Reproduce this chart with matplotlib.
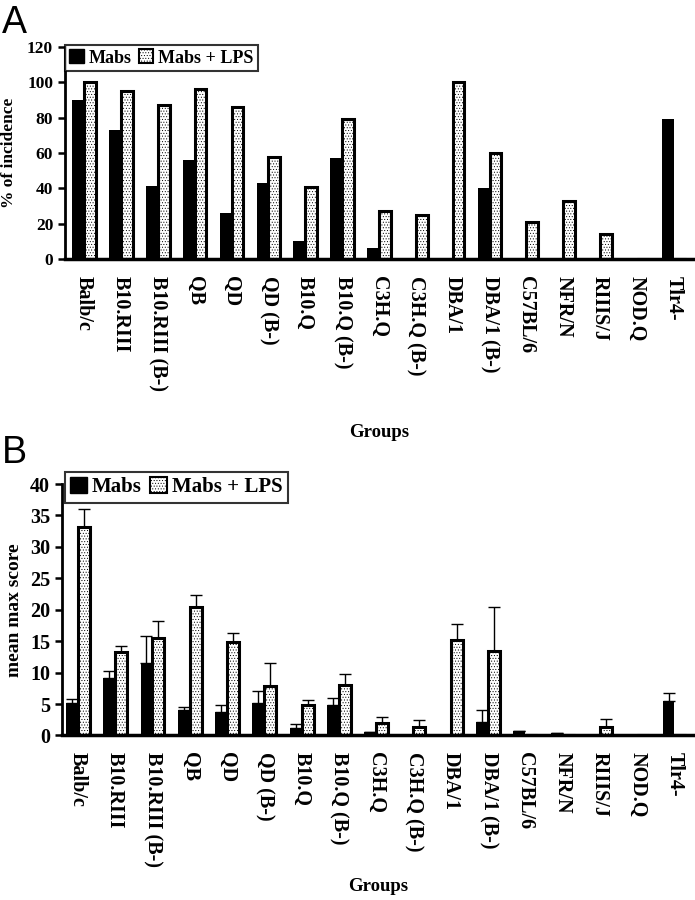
import matplotlib
matplotlib.use('Agg')
import matplotlib.pyplot as plt
from matplotlib.patches import Patch
import numpy as np

# data
groups = ['Balb/c', 'B10.RIII', 'B10.RIII (B-)', 'QB', 'QD', 'QD (B-)', 'B10.Q',
          'B10.Q (B-)', 'C3H.Q', 'C3H.Q (B-)', 'DBA/1', 'DBA/1 (B-)', 'C57BL/6',
          'NFR/N', 'RIIIS/J', 'NOD.Q', 'Tlr4-']

inc_mabs = [90, 73, 41.5, 56, 26, 43, 10, 57, 6, 0, 0, 40, 0, 0, 0, 0, 79.5]
inc_lps = [100, 95, 87, 96, 86, 57.5, 40.5, 79, 27, 25, 100, 60, 21, 33, 14, 0, 0]

score_mabs = [5.2, 9.2, 11.5, 4.1, 3.7, 5.2, 1.25, 4.8, 0.5, 0, 0, 2.2, 0.7, 0.4, 0, 0, 5.5]
score_mabs_err = [0.6, 1.0, 4.4, 0.5, 1.1, 1.9, 0.5, 1.1, 0, 0, 0, 1.8, 0, 0, 0, 0, 1.2]
score_lps = [33.2, 13.2, 15.5, 20.4, 14.8, 7.9, 4.8, 8.0, 2.0, 1.4, 15.2, 13.4, 0, 0, 1.4, 0, 0]
score_lps_err = [2.8, 1.1, 2.7, 1.9, 1.5, 3.6, 0.8, 1.8, 0.9, 1.0, 2.5, 7.1, 0, 0, 1.2, 0, 0]

serif = 'Liberation Serif'
plt.rcParams['hatch.linewidth'] = 0.4

fig = plt.figure(figsize=(6.95, 9), dpi=100)
axA = fig.add_axes([0.0935, 0.7122, 0.9035, 0.2356])
axB = fig.add_axes([0.089, 0.1828, 0.911, 0.2794])

x = np.arange(len(groups))
w = 0.32


def draw_panel(ax, mabs, lps, mabs_err=None, lps_err=None):
    ax.bar(x - w / 2, mabs, w, color='black', edgecolor='black', linewidth=0, zorder=2)
    ax.bar(x + w / 2, lps, w, facecolor='white', edgecolor='black', hatch='......',
           linewidth=2.2, zorder=2)
    if mabs_err is not None:
        ax.errorbar(x - w / 2, mabs, yerr=[np.zeros(len(x)), mabs_err], fmt='none',
                    ecolor='black', elinewidth=1, capsize=4, capthick=1, zorder=1)
        ax.errorbar(x + w / 2, lps, yerr=[np.zeros(len(x)), lps_err], fmt='none',
                    ecolor='black', elinewidth=1, capsize=4, capthick=1, zorder=1)
    ax.spines['top'].set_visible(False)
    ax.spines['right'].set_visible(False)
    ax.spines['left'].set_linewidth(2)
    ax.spines['bottom'].set_linewidth(2.5)
    ax.set_xticks(x)
    ax.set_xticklabels(groups, rotation=-90, fontfamily=serif, fontweight='bold',
                       fontsize=14.5, va='top', ha='center')
    ax.tick_params(axis='x', length=0, pad=12)
    ax.tick_params(axis='y', direction='out', length=5, width=1.8)
    ax.set_xlabel('Groups', fontfamily=serif, fontweight='bold', fontsize=13.5)
    for lab in ax.get_yticklabels():
        lab.set_fontfamily(serif)
        lab.set_fontweight('bold')


handles = [Patch(facecolor='black', edgecolor='black', label='Mabs'),
           Patch(facecolor='white', edgecolor='black', hatch='......', linewidth=1.5,
                 label='Mabs + LPS')]

# panel A
draw_panel(axA, inc_mabs, inc_lps)
axA.set_xlim(-0.52, 16.52)
axA.set_ylim(0, 120)
axA.set_yticks(range(0, 121, 20))
axA.tick_params(axis='y', labelsize=12.5)
axA.set_ylabel('% of incidence', fontfamily=serif, fontweight='bold', fontsize=12.5,
               labelpad=7)
axA.xaxis.set_label_coords(0.5, -0.78)
legA = axA.legend(handles=handles, loc='upper left', bbox_to_anchor=(0.0, 1.01), ncol=2,
                  frameon=True, fancybox=False, handlelength=0.8, handleheight=0.8,
                  handletextpad=0.25, columnspacing=0.4, borderpad=0.25,
                  borderaxespad=0, prop={'family': serif, 'weight': 'bold', 'size': 13})
legA.get_frame().set_edgecolor('black')
legA.get_frame().set_linewidth(1.5)

# panel B
draw_panel(axB, score_mabs, score_lps, score_mabs_err, score_lps_err)
axB.set_xlim(-0.43, 16.55)
axB.set_ylim(0, 40)
axB.set_yticks(range(0, 41, 5))
axB.tick_params(axis='y', labelsize=14.5)
axB.set_ylabel('mean max score', fontfamily=serif, fontweight='bold', fontsize=14,
               labelpad=5)
axB.xaxis.set_label_coords(0.5, -0.565)
legB = axB.legend(handles=handles, loc='upper left', bbox_to_anchor=(0.005, 1.048), ncol=2,
                  frameon=True, fancybox=False, handlelength=0.8, handleheight=0.8,
                  handletextpad=0.25, columnspacing=0.4, borderpad=0.25,
                  borderaxespad=0, prop={'family': serif, 'weight': 'bold', 'size': 15})
legB.get_frame().set_edgecolor('black')
legB.get_frame().set_linewidth(1.5)

fig.text(0.003, 1 - 5 / 900, 'A', fontfamily='Liberation Sans', fontsize=27, va='top')
fig.text(0.003, 1 - 435 / 900, 'B', fontfamily='Liberation Sans', fontsize=27, va='top')

fig.savefig('out.png', dpi=100)
